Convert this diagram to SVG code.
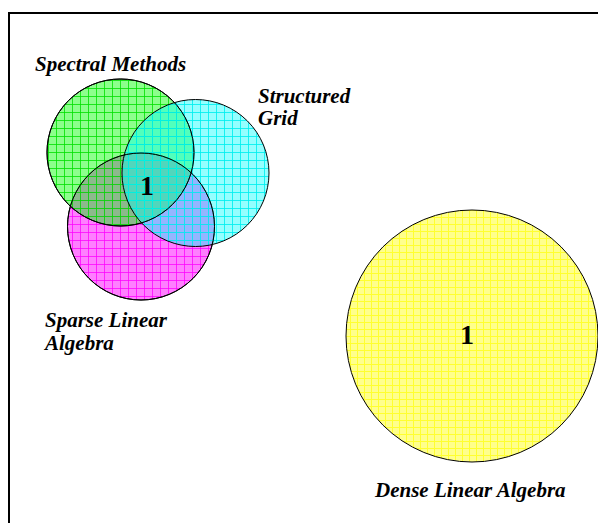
<svg xmlns="http://www.w3.org/2000/svg" width="598" height="523" viewBox="0 0 598 523">
<defs>
<pattern id="pg" width="8" height="8" patternUnits="userSpaceOnUse"><rect width="8" height="8" fill="#00ff00" fill-opacity="0.45"/><path d="M0 0.5H8M0.5 0V8" stroke="#00e000" stroke-opacity="0.8" stroke-width="1"/></pattern>
<pattern id="pc" width="8" height="8" patternUnits="userSpaceOnUse"><rect width="8" height="8" fill="#00ffff" fill-opacity="0.42"/><path d="M0 0.5H8M0.5 0V8" stroke="#00f0f0" stroke-opacity="0.85" stroke-width="1"/></pattern>
<pattern id="pm" width="8" height="8" patternUnits="userSpaceOnUse"><rect width="8" height="8" fill="#ff00ff" fill-opacity="0.5"/><path d="M0 0.5H8M0.5 0V8" stroke="#ff00ff" stroke-opacity="0.75" stroke-width="1"/></pattern>
<pattern id="py" width="7" height="7" patternUnits="userSpaceOnUse"><rect width="7" height="7" fill="#ffff8c"/><path d="M0 0.5H7M0.5 0V7" stroke="#ffff30" stroke-width="1"/></pattern>
</defs>
<style>
.lbl{font-family:"Liberation Serif","Times New Roman",serif;font-weight:bold;font-style:italic;font-size:21px;fill:#000}
.num{font-family:"Liberation Serif","Times New Roman",serif;font-weight:bold;font-size:28px;fill:#000;text-anchor:middle}
.c{stroke:#000;stroke-width:1}
</style>
<rect x="9" y="13" width="620" height="540" fill="#fff" stroke="#000" stroke-width="2"/>
<g id="sparse"><circle class="c" cx="141" cy="226.5" r="73.5" fill="url(#pm)"/></g>
<g id="spectral"><circle class="c" cx="120.5" cy="152.5" r="73.5" fill="url(#pg)"/></g>
<g id="structured"><circle class="c" cx="195.5" cy="173" r="73.5" fill="url(#pc)"/></g>
<g id="outlines" fill="none"><circle class="c" cx="120.5" cy="152.5" r="73.5"/><circle class="c" cx="141" cy="226.5" r="73.5"/></g>
<g id="dense"><circle class="c" cx="472" cy="336" r="126" fill="url(#py)"/></g>
<g id="connectors"/>
<g id="labels">
<text class="lbl" x="35" y="71">Spectral Methods</text>
<text class="lbl" x="258" y="103">Structured</text>
<text class="lbl" x="258" y="125">Grid</text>
<text class="lbl" x="45" y="327">Sparse Linear</text>
<text class="lbl" x="45" y="350">Algebra</text>
<text class="lbl" x="375" y="497">Dense Linear Algebra</text>
<text class="num" x="147" y="195">1</text>
<text class="num" x="467" y="344">1</text>
</g>
</svg>
